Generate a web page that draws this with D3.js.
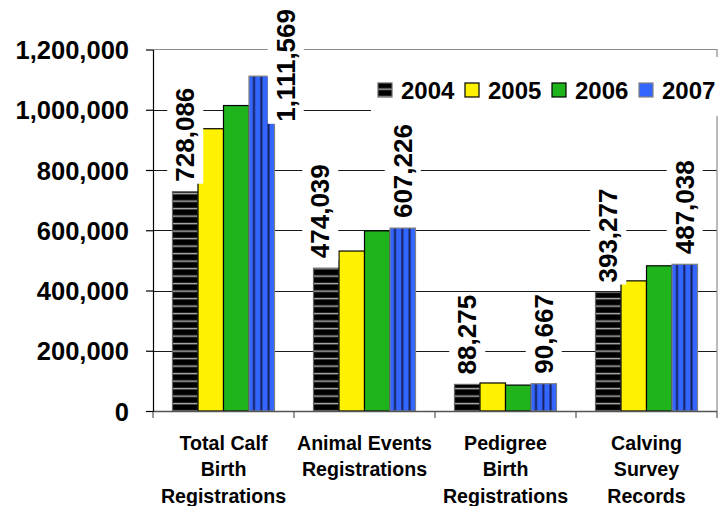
<!DOCTYPE html>
<html>
<head>
<meta charset="utf-8">
<script src="https://cdn.jsdelivr.net/npm/d3@7"></script>
<style>
  body { margin: 0; background: #fff; }
  svg { display: block; }
  text { font-family: "Liberation Sans", Arial, sans-serif; font-weight: bold; fill: #000; }
</style>
</head>
<body>
<svg id="chart" width="728" height="506"></svg>
<script>
// Registrations by activity, 2004-2007
const categories = [
  "Total Calf\nBirth\nRegistrations",
  "Animal Events\nRegistrations",
  "Pedigree\nBirth\nRegistrations",
  "Calving\nSurvey\nRecords"
];
const years = ["2004", "2005", "2006", "2007"];
const values2004 = [728086, 474039, 88275, 393277];
const values2005 = [937000, 531000, 93000, 432000];
const values2006 = [1014000, 598000, 86000, 482000];
const values2007 = [1111569, 607226, 90667, 487038];
const yTicks = [0, 200000, 400000, 600000, 800000, 1000000, 1200000];
const labelledYears = ["2004", "2007"];

const seriesValues = { "2004": values2004, "2005": values2005, "2006": values2006, "2007": values2007 };

// Plot geometry
const plotLeft = 153, plotRight = 717, plotTop = 49.5, plotBottom = 411;

const svg = d3.select("#chart");
const defs = svg.append("defs");

// 2004: black with thin grey horizontal stripes
const p04 = defs.append("pattern").attr("id", "fill2004")
  .attr("patternUnits", "userSpaceOnUse").attr("width", 8).attr("height", 7.5).attr("y", 0);
p04.append("rect").attr("width", 8).attr("height", 7.5).attr("fill", "#000");
p04.append("rect").attr("y", 5.4).attr("width", 8).attr("height", 1.5).attr("fill", "#b0b0b0");

// 2007: blue with dark vertical lines
const p07 = defs.append("pattern").attr("id", "fill2007")
  .attr("patternUnits", "objectBoundingBox").attr("width", 0.2857).attr("height", 1)
  .attr("patternContentUnits", "userSpaceOnUse");
p07.append("rect").attr("width", 10).attr("height", 1000).attr("fill", "#3366ff");
p07.append("rect").attr("x", 4).attr("width", 2).attr("height", 1000).attr("fill", "#16205c");

const fills = { "2004": "url(#fill2004)", "2005": "#fff200", "2006": "#1fb41c", "2007": "url(#fill2007)" };
const strokes = { "2004": "#666", "2005": "#000", "2006": "#000", "2007": "#808080" };

const x0 = d3.scaleBand().domain(d3.range(categories.length)).range([plotLeft, plotRight]);
const x1 = d3.scaleBand().domain(years).range([0, x0.bandwidth()]).paddingInner(0).paddingOuter(0.765);
const y = d3.scaleLinear().domain([0, 1200000]).range([plotBottom, plotTop]);

// Gridlines
svg.append("g").selectAll("line")
  .data(yTicks.filter(t => t > 0 && t < 1200000))
  .join("line")
  .attr("x1", plotLeft).attr("x2", plotRight)
  .attr("y1", d => Math.round(y(d)) + 0.5).attr("y2", d => Math.round(y(d)) + 0.5)
  .attr("stroke", "#1a1a1a").attr("stroke-width", 1);

// Plot frame (top and right)
svg.append("path")
  .attr("d", `M${plotLeft},${plotTop}H${plotRight}V${plotBottom}`)
  .attr("fill", "none").attr("stroke", "#8c8c8c").attr("stroke-width", 1.2);

// Bars
const groups = svg.append("g").selectAll("g")
  .data(categories.map((c, i) => i))
  .join("g")
  .attr("transform", i => `translate(${x0(i)},0)`);

groups.selectAll("rect")
  .data(i => years.map(yr => ({ year: yr, value: seriesValues[yr][i] })))
  .join("rect")
  .attr("x", d => x1(d.year))
  .attr("y", d => y(d.value))
  .attr("width", x1.bandwidth())
  .attr("height", d => plotBottom - y(d.value))
  .attr("fill", d => fills[d.year])
  .attr("stroke", d => strokes[d.year])
  .attr("stroke-width", 1.2);

// Category axis
const catAxis = svg.append("g");
catAxis.append("line")
  .attr("x1", plotLeft).attr("x2", plotRight).attr("y1", plotBottom + 0.5).attr("y2", plotBottom + 0.5)
  .attr("stroke", "#555").attr("stroke-width", 1.3);
const bounds = d3.range(categories.length).map(i => x0(i)).concat([plotRight]);
catAxis.selectAll("line.tick").data(bounds).join("line").attr("class", "tick")
  .attr("x1", d => d).attr("x2", d => d).attr("y1", plotBottom).attr("y2", plotBottom + 7)
  .attr("stroke", "#555").attr("stroke-width", 1.2);
catAxis.selectAll("text").data(categories).join("text")
  .attr("text-anchor", "middle")
  .attr("font-size", 19.6)
  .each(function (c, i) {
    const t = d3.select(this);
    c.split("\n").forEach((line, k) => {
      t.append("tspan").attr("x", x0(i) + x0.bandwidth() / 2).attr("y", 449.5 + k * 26.5).text(line);
    });
  });

// Value axis
const yAxis = svg.append("g")
  .attr("transform", `translate(${plotLeft},0)`)
  .call(d3.axisLeft(y).tickValues(yTicks).tickFormat(d3.format(",")).tickSize(7).tickSizeOuter(0).tickPadding(17));
yAxis.select(".domain").attr("stroke", "#000").attr("stroke-width", 1.2);
yAxis.selectAll(".tick line").attr("stroke", "#000").attr("stroke-width", 1.2);
yAxis.selectAll(".tick text")
  .attr("font-size", 25.5).attr("font-family", "'Liberation Sans', Arial, sans-serif")
  .attr("font-weight", "bold").attr("fill", "#000").attr("dy", "0.36em");

// Data labels for 2004 and 2007, with white backing
const labelShift = { "2004": [0, -6, 0, 0], "2007": [24, 0, 0, 0] };
const labelLayer = svg.append("g");
labelledYears.forEach(yr => {
  seriesValues[yr].forEach((v, i) => {
    const cx = x0(i) + x1(yr) + x1.bandwidth() / 2 + labelShift[yr][i];
    const g = labelLayer.append("g");
    const box = g.append("rect").attr("fill", "#fff");
    const t = g.append("text")
      .attr("font-size", 26)
      .attr("text-anchor", "start")
      .attr("dominant-baseline", "central")
      .text(d3.format(",")(v));
    const len = t.node().getComputedTextLength();
    const ty = Math.max(y(v) - 10, 9 + len);
    t.attr("transform", `translate(${cx},${ty}) rotate(-90)`);
    box.attr("x", cx - 18).attr("width", 36).attr("y", ty - len - 2).attr("height", len + 4);
  });
});

// Legend
svg.append("rect").attr("x", 371).attr("y", 57).attr("width", 357).attr("height", 59).attr("fill", "#fff");
const legend = svg.append("g").selectAll("g").data(years).join("g")
  .attr("transform", (d, i) => `translate(${378 + i * 87},83)`);
legend.append("rect")
  .attr("width", 14).attr("height", 14)
  .attr("fill", d => fills[d]).attr("stroke", d => strokes[d]).attr("stroke-width", 1.2);
legend.append("text")
  .attr("x", 23).attr("y", 16)
  .attr("font-size", 24)
  .text(d => d);
</script>
</body>
</html>
